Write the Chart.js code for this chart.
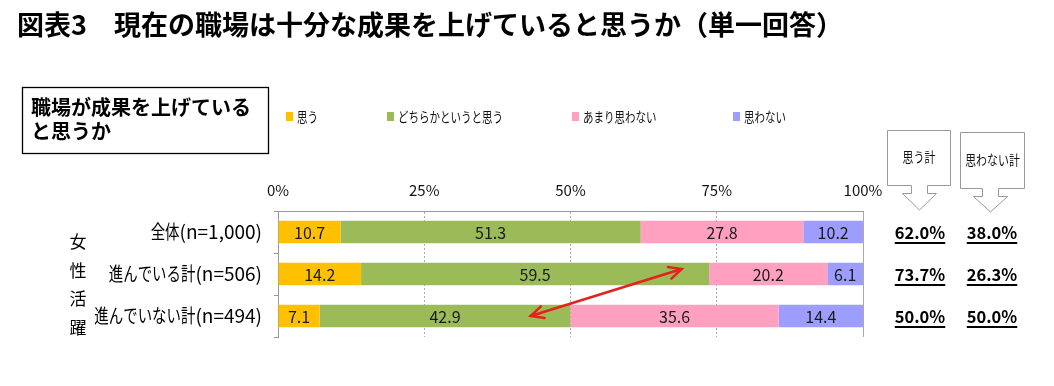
<!DOCTYPE html>
<html><head><meta charset="utf-8">
<script src="https://cdn.jsdelivr.net/npm/chart.js@4.4.0/dist/chart.umd.min.js"></script>
<style>
html,body{margin:0;padding:0;background:#fff;}
#wrap{position:relative;width:1054px;height:386px;}
canvas{position:absolute;left:0;top:0;}
</style></head><body>
<div id="wrap"><canvas id="c" width="1054" height="386"></canvas></div>
<script>
const categories = ['全体(n=1,000)', '進んでいる計(n=506)', '進んでいない計(n=494)'];
const seriesNames = ['思う', 'どちらかというと思う', 'あまり思わない', '思わない'];
const omou = [10.7, 14.2, 7.1];
const dochiraka = [51.3, 59.5, 42.9];
const amari = [27.8, 20.2, 35.6];
const omowanai = [10.2, 6.1, 14.4];
const xTicks = [0, 25, 50, 75, 100];
const sideLabel = '女性活躍';
const titleText = '図表3　現在の職場は十分な成果を上げていると思うか（単一回答）';
const boxTitle = ['職場が成果を上げている', 'と思うか'];
const calloutLabels = ['思う計', '思わない計'];
const arrowFromValue = 43.2, arrowFromCat = 2;
const arrowToValue = 69.0, arrowToCat = 1;

const colors = ['#FFC000', '#9BBB59', '#FFA0C0', '#9D9DFF'];
const seriesData = [omou, dochiraka, amari, omowanai];
const FONT = '"Noto Sans CJK JP", "Noto Sans", sans-serif';

function drawMixed(ctx, text, x, y, size, scale, align, weight) {
  const runs = [];
  for (const ch of text) {
    const cjk = /[\u3000-\u9fff\uff00-\uffef]/.test(ch);
    if (runs.length && runs[runs.length - 1].cjk === cjk) runs[runs.length - 1].s += ch;
    else runs.push({ cjk, s: ch });
  }
  ctx.font = (weight || 'normal') + ' ' + size + 'px ' + FONT;
  const widths = runs.map(r => ctx.measureText(r.s).width * (r.cjk ? scale : 1));
  const total = widths.reduce((a, b) => a + b, 0);
  let cx = align === 'right' ? x - total : align === 'center' ? x - total / 2 : x;
  ctx.textAlign = 'left';
  runs.forEach((r, i) => {
    if (r.cjk) {
      ctx.save(); ctx.translate(cx, y); ctx.scale(scale, 1); ctx.fillText(r.s, 0, 0); ctx.restore();
    } else ctx.fillText(r.s, cx, y);
    cx += widths[i];
  });
}

const overlay = {
  id: 'overlay',
  afterDraw(chart) {
    const ctx = chart.ctx;
    const xs = chart.scales.x, ys = chart.scales.y;
    ctx.save();
    // title
    ctx.fillStyle = '#000';
    ctx.textBaseline = 'middle';
    ctx.textAlign = 'left';
    ctx.font = 'bold 27px ' + FONT;
    ctx.fillText(titleText, 17, 25);
    // box
    ctx.strokeStyle = '#000';
    ctx.lineWidth = 1.3;
    ctx.strokeRect(22.5, 87.5, 246, 66);
    ctx.font = 'bold 20px ' + FONT;
    ctx.fillText(boxTitle[0], 31, 107);
    ctx.fillText(boxTitle[1], 31, 131);
    // legend
    const legX = [286, 387, 572, 733];
    seriesNames.forEach((n, i) => {
      ctx.fillStyle = colors[i];
      ctx.fillRect(legX[i], 112, 7, 9);
      ctx.fillStyle = '#111';
      drawMixed(ctx, n, legX[i] + 11, 117, 14, 0.75, 'left');
    });
    // category labels
    ctx.fillStyle = '#000';
    categories.forEach((c, i) => drawMixed(ctx, c, 262, ys.getPixelForValue(i), 19, 0.76, 'right'));
    // side label
    ctx.textAlign = 'center';
    ctx.font = '17px ' + FONT;
    [...sideLabel].forEach((ch, i) => ctx.fillText(ch, 78, 242 + 28.5 * i));
    // data labels
    ctx.font = '16px ' + FONT;
    ctx.fillStyle = '#1a1a1a';
    chart.data.datasets.forEach((ds, di) => {
      const meta = chart.getDatasetMeta(di);
      meta.data.forEach((el, i) => {
        ctx.fillText(ds.data[i].toFixed(1), (el.x + el.base) / 2, el.y + 1);
      });
    });
    // totals
    ctx.font = 'bold 16.5px ' + FONT;
    ctx.fillStyle = '#000';
    categories.forEach((c, i) => {
      const y = ys.getPixelForValue(i);
      const pos = (omou[i] + dochiraka[i]).toFixed(1) + '%';
      const neg = (amari[i] + omowanai[i]).toFixed(1) + '%';
      [[pos, 920], [neg, 992]].forEach(([t, x]) => {
        ctx.fillText(t, x, y + 1);
        const w = ctx.measureText(t).width;
        ctx.fillRect(x - w / 2, y + 10, w, 2);
      });
    });
    // callouts
    ctx.strokeStyle = '#999';
    ctx.lineWidth = 1;
    function callout(l, r, t, b, sl, sr, sb, hl, hr, tipY, label) {
      const tx = (hl + hr) / 2;
      ctx.beginPath();
      ctx.moveTo(l, t); ctx.lineTo(r, t); ctx.lineTo(r, b); ctx.lineTo(sr, b);
      ctx.lineTo(sr, sb); ctx.lineTo(hr, sb); ctx.lineTo(tx, tipY); ctx.lineTo(hl, sb);
      ctx.lineTo(sl, sb); ctx.lineTo(sl, b); ctx.lineTo(l, b); ctx.closePath();
      ctx.fillStyle = '#fff'; ctx.fill(); ctx.stroke();
      ctx.fillStyle = '#111';
      drawMixed(ctx, label, (l + r) / 2, (t + b) / 2 - 1, 14, 0.78, 'center');
    }
    callout(887.5, 950.5, 130.5, 185.5, 911.5, 927.5, 193.5, 902.5, 936.5, 210, calloutLabels[0]);
    callout(960.5, 1024.5, 132.5, 188.5, 982.5, 998.5, 196.5, 973.5, 1007.5, 212, calloutLabels[1]);
    // red arrow
    const x1 = xs.getPixelForValue(arrowFromValue), y1 = ys.getPixelForValue(arrowFromCat);
    const x2 = xs.getPixelForValue(arrowToValue), y2 = ys.getPixelForValue(arrowToCat) - 5;
    ctx.strokeStyle = '#E3231B';
    ctx.lineWidth = 2.5;
    ctx.lineCap = 'round';
    ctx.beginPath(); ctx.moveTo(x1, y1); ctx.lineTo(x2, y2); ctx.stroke();
    const ang = Math.atan2(y2 - y1, x2 - x1);
    function head(x, y, a) {
      const L = 14, s = 0.45;
      ctx.beginPath();
      ctx.moveTo(x - L * Math.cos(a - s), y - L * Math.sin(a - s));
      ctx.lineTo(x, y);
      ctx.lineTo(x - L * Math.cos(a + s), y - L * Math.sin(a + s));
      ctx.stroke();
    }
    head(x2, y2, ang);
    head(x1, y1, ang + Math.PI);
    ctx.restore();
  }
};

new Chart(document.getElementById('c'), {
  type: 'bar',
  data: {
    labels: categories,
    datasets: seriesNames.map((n, i) => ({
      label: n,
      data: seriesData[i],
      backgroundColor: colors[i],
      borderWidth: 0,
      barPercentage: 0.53,
      categoryPercentage: 1
    }))
  },
  options: {
    indexAxis: 'y',
    responsive: false,
    animation: false,
    devicePixelRatio: 1,
    layout: { padding: { left: 0, right: 191, top: 170, bottom: 49 } },
    plugins: { legend: { display: false }, tooltip: { enabled: false } },
    scales: {
      x: {
        position: 'top',
        stacked: true,
        min: 0, max: 100,
        afterBuildTicks: s => { s.ticks = xTicks.map(v => ({ value: v })); },
        afterFit: s => { s.height = 41; },
        ticks: { callback: v => v + '%', color: '#111', font: { size: 15, family: FONT }, padding: 12, maxRotation: 0 },
        grid: { color: '#aaa', drawTicks: false, lineWidth: 1 },
        border: { color: '#999', dash: c => (c.tick && c.tick.value > 0 && c.tick.value < 100) ? [2, 2] : [] }
      },
      y: {
        stacked: true,
        afterFit: s => { s.width = 278; },
        ticks: { display: false },
        grid: { offset: true, drawOnChartArea: false, tickLength: 4, color: '#999' },
        border: { color: '#999' }
      }
    }
  },
  plugins: [overlay]
});
</script>
</body></html>
